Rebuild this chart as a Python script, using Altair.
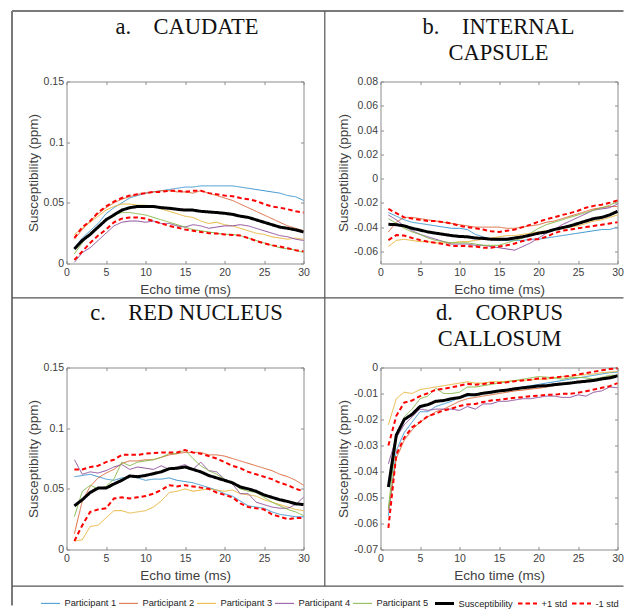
import altair as alt
import pandas as pd

T = list(range(1, 31))
SERIES = ["Participant 1", "Participant 2", "Participant 3", "Participant 4",
          "Participant 5", "Susceptibility", "+1 std", "-1 std"]
COLORS = ["#3d96d0", "#dc6a3c", "#e8b53a", "#8f4f9c", "#86b94a", "#000000", "#ff0000", "#ff0000"]
DASHES = [[1, 0], [1, 0], [1, 0], [1, 0], [1, 0], [1, 0], [4.5, 3], [4.5, 3]]
WIDTHS = [1, 1, 1, 1, 1, 3, 2, 2]
X_TICKS = [0, 5, 10, 15, 20, 25, 30]

NB = "\u00a0"
TITLE_A = ["a." + NB * 4 + "CAUDATE"]
TITLE_B = ["b." + NB * 4 + "INTERNAL", NB * 7 + "CAPSULE"]
TITLE_C = ["c." + NB * 4 + "RED NUCLEUS"]
TITLE_D = ["d." + NB * 4 + "CORPUS", NB * 6 + "CALLOSUM"]

CAUDATE = {
    "Participant 1": [0.013,0.021,0.027,0.033,0.041,0.046,0.050,0.054,0.056,0.058,0.059,0.060,0.061,0.062,0.063,0.063,0.064,0.064,0.064,0.064,0.064,0.063,0.062,0.061,0.060,0.059,0.058,0.056,0.055,0.052],
    "Participant 2": [0.020,0.028,0.035,0.041,0.046,0.050,0.053,0.055,0.057,0.058,0.059,0.060,0.060,0.059,0.059,0.058,0.060,0.058,0.056,0.054,0.052,0.049,0.046,0.043,0.040,0.037,0.034,0.031,0.029,0.027],
    "Participant 3": [0.024,0.029,0.034,0.039,0.044,0.047,0.049,0.049,0.048,0.048,0.047,0.045,0.043,0.041,0.039,0.038,0.035,0.033,0.034,0.032,0.031,0.029,0.027,0.025,0.024,0.022,0.021,0.020,0.021,0.020],
    "Participant 4": [0.001,0.009,0.013,0.019,0.025,0.031,0.034,0.035,0.035,0.034,0.035,0.033,0.033,0.031,0.030,0.032,0.031,0.029,0.030,0.031,0.031,0.032,0.031,0.029,0.027,0.025,0.023,0.022,0.020,0.019],
    "Participant 5": [0.008,0.017,0.025,0.031,0.036,0.040,0.042,0.042,0.041,0.040,0.038,0.036,0.034,0.032,0.030,0.028,0.027,0.026,0.025,0.024,0.024,0.023,0.021,0.019,0.017,0.015,0.013,0.012,0.011,0.009],
    "Susceptibility": [0.012,0.019,0.024,0.030,0.036,0.040,0.044,0.046,0.047,0.047,0.047,0.046,0.0455,0.0447,0.044,0.044,0.043,0.0425,0.042,0.0414,0.0405,0.039,0.038,0.036,0.034,0.032,0.030,0.029,0.0277,0.026],
    "+1 std": [0.021,0.030,0.035,0.042,0.047,0.051,0.054,0.056,0.057,0.058,0.059,0.059,0.060,0.060,0.059,0.060,0.060,0.058,0.057,0.056,0.0555,0.054,0.053,0.0515,0.049,0.047,0.046,0.0447,0.043,0.042],
    "-1 std": [0.003,0.010,0.017,0.023,0.028,0.034,0.037,0.038,0.038,0.037,0.035,0.033,0.031,0.0296,0.028,0.027,0.026,0.025,0.0247,0.024,0.0235,0.023,0.021,0.0186,0.0167,0.015,0.014,0.0126,0.011,0.010],
}

INTERNAL_CAPSULE = {
    "Participant 1": [-0.028,-0.031,-0.034,-0.036,-0.037,-0.038,-0.039,-0.040,-0.041,-0.041,-0.042,-0.046,-0.048,-0.050,-0.051,-0.051,-0.051,-0.051,-0.050,-0.050,-0.049,-0.048,-0.047,-0.046,-0.045,-0.044,-0.043,-0.042,-0.042,-0.040],
    "Participant 2": [-0.044,-0.036,-0.032,-0.032,-0.033,-0.034,-0.035,-0.036,-0.037,-0.038,-0.039,-0.040,-0.040,-0.040,-0.040,-0.041,-0.041,-0.040,-0.039,-0.038,-0.036,-0.035,-0.033,-0.031,-0.029,-0.027,-0.025,-0.024,-0.023,-0.023],
    "Participant 3": [-0.056,-0.051,-0.050,-0.051,-0.052,-0.052,-0.053,-0.053,-0.053,-0.052,-0.052,-0.051,-0.050,-0.049,-0.048,-0.047,-0.047,-0.046,-0.045,-0.044,-0.043,-0.042,-0.041,-0.040,-0.039,-0.037,-0.035,-0.034,-0.032,-0.030],
    "Participant 4": [-0.030,-0.034,-0.039,-0.043,-0.046,-0.048,-0.050,-0.052,-0.054,-0.054,-0.054,-0.055,-0.055,-0.056,-0.057,-0.058,-0.059,-0.056,-0.053,-0.049,-0.045,-0.042,-0.038,-0.035,-0.032,-0.029,-0.026,-0.025,-0.024,-0.021],
    "Participant 5": [-0.033,-0.037,-0.041,-0.044,-0.046,-0.049,-0.051,-0.052,-0.053,-0.053,-0.053,-0.054,-0.055,-0.055,-0.055,-0.053,-0.051,-0.049,-0.045,-0.041,-0.038,-0.036,-0.034,-0.032,-0.030,-0.028,-0.026,-0.024,-0.022,-0.019],
    "Susceptibility": [-0.0377,-0.038,-0.039,-0.041,-0.0424,-0.044,-0.045,-0.046,-0.047,-0.0477,-0.048,-0.049,-0.0493,-0.050,-0.050,-0.050,-0.049,-0.048,-0.0466,-0.045,-0.044,-0.042,-0.0405,-0.039,-0.037,-0.035,-0.033,-0.032,-0.030,-0.027],
    "+1 std": [-0.025,-0.0285,-0.032,-0.033,-0.034,-0.035,-0.035,-0.036,-0.037,-0.039,-0.040,-0.041,-0.042,-0.0435,-0.044,-0.043,-0.042,-0.040,-0.038,-0.0355,-0.0335,-0.032,-0.030,-0.0285,-0.0265,-0.024,-0.0225,-0.0215,-0.020,-0.018],
    "-1 std": [-0.0507,-0.0466,-0.047,-0.049,-0.0507,-0.052,-0.053,-0.054,-0.0555,-0.0555,-0.0557,-0.056,-0.057,-0.057,-0.056,-0.055,-0.0535,-0.0515,-0.050,-0.050,-0.048,-0.045,-0.043,-0.042,-0.041,-0.040,-0.039,-0.038,-0.037,-0.036],
}

RED_NUCLEUS = {
    "Participant 1": [0.060,0.061,0.062,0.060,0.058,0.057,0.059,0.060,0.059,0.057,0.058,0.058,0.059,0.057,0.056,0.055,0.053,0.051,0.049,0.046,0.044,0.040,0.036,0.035,0.034,0.031,0.029,0.028,0.027,0.027],
    "Participant 2": [0.013,0.040,0.052,0.059,0.063,0.066,0.071,0.073,0.073,0.074,0.074,0.076,0.078,0.079,0.080,0.080,0.080,0.078,0.078,0.077,0.075,0.073,0.071,0.069,0.067,0.065,0.062,0.060,0.057,0.053],
    "Participant 3": [0.007,0.008,0.019,0.020,0.026,0.032,0.032,0.030,0.031,0.032,0.035,0.040,0.047,0.048,0.050,0.048,0.049,0.050,0.049,0.048,0.049,0.046,0.045,0.044,0.041,0.039,0.037,0.035,0.033,0.032],
    "Participant 4": [0.074,0.062,0.064,0.063,0.065,0.068,0.070,0.066,0.068,0.067,0.066,0.069,0.066,0.068,0.070,0.066,0.072,0.065,0.064,0.058,0.054,0.046,0.046,0.039,0.037,0.035,0.034,0.034,0.037,0.043],
    "Participant 5": [0.027,0.048,0.053,0.050,0.052,0.058,0.072,0.069,0.072,0.073,0.074,0.076,0.079,0.079,0.082,0.075,0.069,0.065,0.062,0.058,0.055,0.050,0.048,0.047,0.043,0.039,0.036,0.033,0.031,0.028],
    "Susceptibility": [0.036,0.041,0.047,0.0506,0.0506,0.054,0.057,0.0606,0.060,0.061,0.0625,0.064,0.0666,0.067,0.068,0.066,0.064,0.061,0.059,0.057,0.055,0.0515,0.050,0.048,0.045,0.043,0.041,0.0396,0.0377,0.037],
    "+1 std": [0.066,0.066,0.068,0.069,0.072,0.074,0.078,0.078,0.078,0.079,0.0795,0.080,0.080,0.080,0.082,0.080,0.079,0.077,0.075,0.072,0.069,0.067,0.064,0.062,0.060,0.058,0.055,0.053,0.050,0.048],
    "-1 std": [0.007,0.020,0.031,0.033,0.034,0.042,0.043,0.042,0.043,0.044,0.046,0.049,0.053,0.052,0.053,0.052,0.051,0.050,0.047,0.045,0.043,0.038,0.035,0.034,0.033,0.029,0.027,0.025,0.026,0.026],
}

CORPUS_CALLOSUM = {
    "Participant 1": [-0.057,-0.032,-0.025,-0.021,-0.017,-0.017,-0.015,-0.014,-0.013,-0.0115,-0.011,-0.0105,-0.010,-0.0095,-0.009,-0.0085,-0.008,-0.0075,-0.007,-0.0065,-0.006,-0.0055,-0.005,-0.0045,-0.004,-0.0035,-0.003,-0.0025,-0.002,-0.0018],
    "Participant 2": [-0.055,-0.035,-0.028,-0.024,-0.021,-0.019,-0.017,-0.016,-0.0145,-0.013,-0.012,-0.0115,-0.011,-0.0105,-0.010,-0.0095,-0.009,-0.0087,-0.0083,-0.008,-0.0075,-0.007,-0.0065,-0.006,-0.0055,-0.005,-0.0045,-0.004,-0.0035,-0.003],
    "Participant 3": [-0.022,-0.012,-0.0095,-0.010,-0.0085,-0.008,-0.0075,-0.007,-0.0065,-0.006,-0.0055,-0.006,-0.006,-0.0055,-0.0055,-0.0053,-0.005,-0.005,-0.0048,-0.0045,-0.0045,-0.004,-0.0035,-0.0035,-0.003,-0.0028,-0.0025,-0.002,-0.0018,-0.0015],
    "Participant 4": [-0.037,-0.027,-0.022,-0.019,-0.016,-0.0165,-0.016,-0.016,-0.016,-0.0165,-0.015,-0.016,-0.014,-0.014,-0.013,-0.013,-0.0125,-0.012,-0.012,-0.0115,-0.011,-0.011,-0.0115,-0.0115,-0.0105,-0.011,-0.0095,-0.009,-0.0075,-0.0078],
    "Participant 5": [-0.054,-0.027,-0.019,-0.016,-0.012,-0.011,-0.008,-0.010,-0.010,-0.0095,-0.0075,-0.0075,-0.007,-0.0065,-0.006,-0.0055,-0.005,-0.0045,-0.004,-0.0035,-0.0037,-0.004,-0.0045,-0.004,-0.0038,-0.004,-0.0045,-0.0038,-0.003,-0.003],
    "Susceptibility": [-0.046,-0.026,-0.020,-0.018,-0.015,-0.0143,-0.013,-0.0127,-0.012,-0.0116,-0.0104,-0.0105,-0.0099,-0.0095,-0.009,-0.0087,-0.0082,-0.0078,-0.0075,-0.0071,-0.007,-0.0066,-0.0063,-0.006,-0.0056,-0.0053,-0.005,-0.0044,-0.004,-0.0032],
    "+1 std": [-0.030,-0.0186,-0.0135,-0.0127,-0.011,-0.0099,-0.0086,-0.0082,-0.0076,-0.007,-0.0063,-0.0066,-0.0063,-0.006,-0.006,-0.0057,-0.0053,-0.005,-0.0047,-0.0042,-0.0042,-0.0038,-0.0035,-0.0032,-0.0027,-0.0022,-0.0016,-0.0011,-0.0006,-0.0003],
    "-1 std": [-0.0617,-0.0335,-0.027,-0.023,-0.021,-0.0187,-0.0177,-0.0165,-0.0158,-0.0148,-0.0142,-0.014,-0.0133,-0.0127,-0.0124,-0.012,-0.0116,-0.0114,-0.011,-0.0108,-0.0105,-0.0105,-0.0101,-0.0101,-0.0097,-0.0091,-0.0085,-0.0078,-0.0072,-0.006],
}

Y_TICKS_A = [0, 0.05, 0.1, 0.15]
Y_TICKS_B = [-0.06, -0.04, -0.02, 0, 0.02, 0.04, 0.06, 0.08]
Y_TICKS_C = [0, 0.05, 0.1, 0.15]
Y_TICKS_D = [-0.07, -0.06, -0.05, -0.04, -0.03, -0.02, -0.01, 0]

SANS = "Liberation Sans"
SERIF = "Liberation Serif"
AX = "#8c8c8c"
TXT = "#404040"
INWARD = {"expr": "-3"}
NUM_LABEL = "replace(format(datum.value, '~g'), '\u2212', '-')"

LEG = alt.Legend(orient="none", legendX=-27, legendY=511, direction="horizontal", columns=8,
                 symbolType="stroke", symbolSize=361, labelFont=SANS, labelFontSize=9.3,
                 labelColor="#222222", labelOffset=3, columnPadding=0, padding=0,
                 labelLimit=0, title=None)


def x_scale():
    return alt.Scale(domain=[0, 30], nice=False, zero=False)


def y_scale(dom):
    return alt.Scale(domain=dom, nice=False, zero=False)


def x_bottom():
    return alt.Axis(values=X_TICKS, labelExpr=NUM_LABEL, title="Echo time (ms)", grid=False,
                    labelFlush=False, tickSize=INWARD, tickColor=AX, domainColor=AX, labelFont=SANS,
                    labelFontSize=10.5, labelColor=TXT, labelPadding=7, labelOverlap=False,
                    titleFont=SANS, titleFontSize=13.5, titleFontWeight="normal", titleColor=TXT,
                    titlePadding=4)


def y_left(ticks):
    return alt.Axis(values=ticks, labelExpr=NUM_LABEL, title="Susceptibility (ppm)",
                    grid=False, labelFlush=False, tickSize=INWARD, tickColor=AX, domainColor=AX,
                    labelFont=SANS, labelFontSize=10.5, labelColor=TXT, labelPadding=6,
                    labelOverlap=False, titleFont=SANS, titleFontSize=13.5, titleFontWeight="normal",
                    titleColor=TXT, titlePadding=3)


def x_top():
    return alt.Axis(orient="top", values=X_TICKS, labels=False, title=None, grid=False,
                    tickSize=INWARD, tickColor=AX, domainColor=AX)


def y_right(ticks):
    return alt.Axis(orient="right", values=ticks, labels=False, title=None, grid=False,
                    tickSize=INWARD, tickColor=AX, domainColor=AX)


def rule(x, x2, y, y2, width, color):
    return alt.Chart(pd.DataFrame({"k": [0]})).mark_rule(strokeWidth=width, color=color).encode(
        x=alt.value(x), x2=alt.value(x2), y=alt.value(y), y2=alt.value(y2))


def title_line(text, x, y):
    return alt.Chart(pd.DataFrame({"label": [text]})).mark_text(
        font=SERIF, fontSize=22.5, align="center", baseline="alphabetic", color="#111111").encode(
        x=alt.value(x), y=alt.value(y), text="label:N")


def panel(title, title_x, data, dom, ticks, extra=None):
    df = pd.DataFrame([{"t": t, "value": v, "series": s}
                       for s in SERIES for t, v in zip(T, data[s])])
    base = alt.Chart(df).encode(
        x=alt.X("t:Q", scale=x_scale(), axis=x_bottom()),
        y=alt.Y("value:Q", scale=y_scale(dom), axis=y_left(ticks)),
        color=alt.Color("series:N", scale=alt.Scale(domain=SERIES, range=COLORS), legend=LEG, title=None),
        strokeDash=alt.StrokeDash("series:N", scale=alt.Scale(domain=SERIES, range=DASHES), legend=LEG, title=None),
        strokeWidth=alt.StrokeWidth("series:N", scale=alt.Scale(type="ordinal", domain=SERIES, range=WIDTHS),
                                    legend=LEG, title=None),
    )
    parts = base.transform_filter(alt.FieldOneOfPredicate(field="series", oneOf=SERIES[:5])).mark_line(strokeCap="butt")
    mean = base.transform_filter(alt.FieldEqualPredicate(field="series", equal="Susceptibility")).mark_line(strokeCap="butt")
    std = base.transform_filter(alt.FieldOneOfPredicate(field="series", oneOf=SERIES[6:])).mark_line(strokeCap="butt")
    titles = [title_line(line, title_x, -48 + 26 * i) for i, line in enumerate(title)]
    inner = alt.layer(parts, mean, std, *titles, *(extra or []))
    box = alt.Chart(df).mark_point(opacity=0, size=1).encode(
        x=alt.X("t:Q", scale=x_scale(), axis=x_top()),
        y=alt.Y("value:Q", scale=y_scale(dom), axis=y_right(ticks)))
    return alt.layer(inner, box).resolve_axis(x="independent", y="independent").properties(
        width=237, height=182)


BORDER = "#7a7a7a"
borders = [
    rule(-54.5, 557, -70.5, -70.5, 2, BORDER),
    rule(-54.5, -54.5, -70.5, 524, 2, BORDER),
    rule(258.3, 258.3, -70.5, 504.7, 1.2, "#555555"),
    rule(-54.5, 557, 216.3, 216.3, 1.2, "#555555"),
    rule(-54.5, 557, 504.7, 504.7, 1.2, "#555555"),
]

pa = panel(TITLE_A, 120.5, CAUDATE, [0, 0.15], Y_TICKS_A, borders)
pb = panel(TITLE_B, 118, INTERNAL_CAPSULE, [-0.07, 0.08], Y_TICKS_B)
pc = panel(TITLE_C, 120, RED_NUCLEUS, [0, 0.15], Y_TICKS_C)
pd_ = panel(TITLE_D, 119, CORPUS_CALLOSUM, [-0.07, 0], Y_TICKS_D)

chart = alt.concat(pa, pb, pc, pd_, columns=2, spacing=alt.RowColnumber(row=104, column=77),
                   bounds="flush").resolve_scale(x="independent", y="independent").configure_view(
    stroke=None).properties(padding={"left": 10.5, "top": 9.5, "right": 0, "bottom": 0},
                            background="white")

chart.save("out.html", embed_options={"renderer": "svg", "actions": False})
